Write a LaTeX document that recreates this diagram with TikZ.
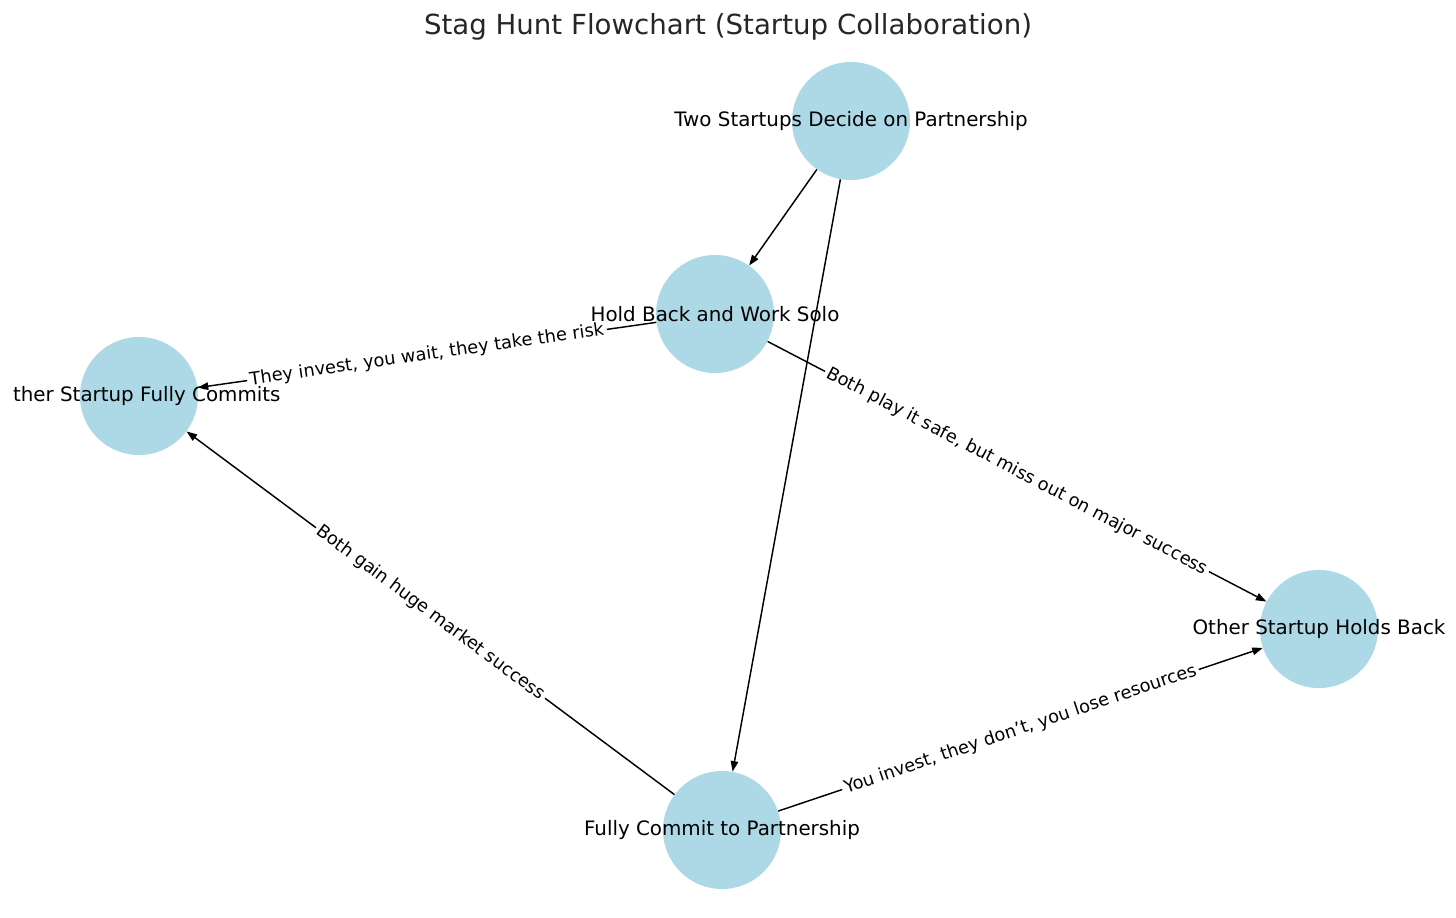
\documentclass[tikz,border=0pt]{standalone}
\usepackage{fontspec}
\setmainfont{DejaVu Sans}
\usetikzlibrary{arrows.meta}
\definecolor{nodeblue}{HTML}{ADD8E6}
\tikzset{
 state/.style={circle,fill=nodeblue,minimum size=85pt,inner sep=0pt},
 nodetext/.style={font=\fontsize{14.3}{17}\selectfont},
 edgetext/.style={font=\fontsize{12.8}{15}\selectfont,fill=white,sloped,inner sep=2pt,rounded corners=2pt},
 edge/.style={-{Triangle[length=7.6pt,width=5.4pt]},line width=1.05pt}
}

\begin{document}
\begin{tikzpicture}[x=0.72pt,y=-0.72pt]
\clip (0,0) rectangle (1456,918);
\node[font=\fontsize{19.9}{23}\selectfont,text=black!85](title) at (728,27){Stag Hunt Flowchart (Startup Collaboration)};
%states
\node[state](two) at (851,121){};
\node[state](hold) at (715,314){};
\node[state](otherfull) at (139,396){};
\node[state](otherhold) at (1319,629){};
\node[state](full) at (722,830){};
%transitions
\draw[edge](two)--(hold);
\draw[edge](two)--(full);
\draw[edge](hold)--node[edgetext]{They invest, you wait, they take the risk}(otherfull);
\draw[edge](hold)--node[edgetext]{Both play it safe, but miss out on major success}(otherhold);
\draw[edge](full)--node[edgetext]{Both gain huge market success}(otherfull);
\draw[edge](full)--node[edgetext]{You invest, they don’t, you lose resources}(otherhold);
%names
\node[nodetext] at (two){Two Startups Decide on Partnership};
\node[nodetext] at (hold){Hold Back and Work Solo};
\begin{scope}
\clip (13,0) rectangle (1456,918);
\node[nodetext] at (otherfull){Other Startup Fully Commits};
\end{scope}
\node[nodetext] at (otherhold){Other Startup Holds Back};
\node[nodetext] at (full){Fully Commit to Partnership};
\end{tikzpicture}
\end{document}
